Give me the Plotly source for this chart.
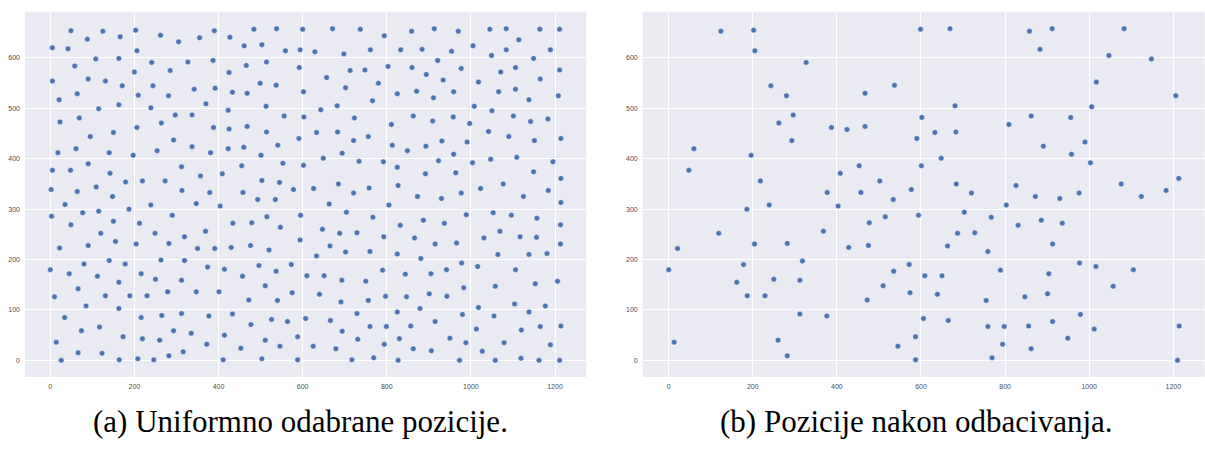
import plotly.graph_objects as go

# (a) uniformly chosen positions
a_x = [49,125,203,88,166,262,305,5,42,206,108,163,241,327,58,200,285,5,90,131,171,244,64,209,281,21,115,163,239,297,69,23,264,206,95,150,293,61,254,18,140,197,90,312,5,48,142,
       179,219,273,109,2,64,313,148,35,239,3,77,115,187,290,150,212,49,120,249,319,155,204,282,90,22,140,263,319,80,178,0,45,216,112,250,312,163,66,279,10,131,189,230,85,163,34,216,265,312,117,74,293,173,219,260,14,66,123,282,316,26,164,208,246,
       355,390,427,484,538,600,671,737,461,503,559,594,629,698,761,387,466,514,425,592,713,748,657,499,537,780,342,392,433,468,602,702,370,766,337,423,513,556,603,643,682,723,388,425,468,514,633,683,591,721,756,337,423,460,541,381,501,694,649,553,602,734,455,409,357,
       503,545,685,379,458,578,626,758,721,493,535,347,404,663,595,704,515,767,434,479,547,369,647,688,729,594,350,391,430,476,520,665,633,702,760,573,374,414,496,537,457,610,651,693,750,511,347,401,472,540,575,640,691,756,377,433,729,477,526,564,607,666,760,335,414,694,588,511,731,372,453,546,625,679,411,503,588,717,769,
       794,859,913,970,1045,1084,1164,1211,1114,1005,833,884,954,1049,1084,1189,921,1149,803,860,977,1106,1211,1071,894,934,1018,1165,825,871,911,959,1066,1106,1138,1208,1008,1050,863,909,958,1101,1183,811,997,1142,1042,1090,1214,813,849,893,931,991,1151,959,792,825,923,1004,1047,1109,1195,892,964,1149,1214,
       827,1023,1077,1184,873,930,977,1125,805,1214,989,1053,1096,1157,832,887,937,1213,793,866,915,966,1031,1069,1117,1156,1213,825,881,1064,1138,1181,790,844,905,942,978,1016,1106,1206,983,1058,1153,797,847,901,943,879,825,980,1018,1104,1177,1055,1138,915,799,857,1013,1120,1165,1214,950,830,794,988,1079,1189,863,906,1027,827,973,1058,1119,1162,1211]
a_y = [654,653,655,637,642,645,632,620,618,614,598,599,591,592,584,572,575,554,558,554,545,545,529,526,525,517,499,507,501,487,481,473,471,462,444,452,437,420,416,412,412,407,390,384,377,377,371,
       354,356,356,344,339,335,337,325,309,308,286,293,296,300,288,276,272,269,252,252,245,236,231,232,228,223,198,199,198,191,191,180,172,172,167,161,159,155,142,136,126,128,128,128,108,103,85,85,89,93,66,59,59,47,43,40,36,15,14,9,17,0,1,3,1,
       640,654,641,657,658,657,658,657,624,626,614,616,612,608,616,595,585,592,571,581,575,576,561,550,546,550,538,540,532,530,533,541,509,515,487,496,504,485,483,497,505,481,462,459,464,453,452,453,440,436,444,424,420,423,427,412,407,411,401,391,387,395,386,370,366,
       357,353,350,333,333,339,341,342,332,319,319,311,306,310,288,294,285,284,272,273,264,256,260,252,253,239,222,222,224,228,219,227,207,215,216,190,185,181,188,177,167,168,168,159,157,148,136,136,120,119,134,131,116,119,88,92,93,71,81,77,83,79,67,54,50,58,47,40,42,32,24,28,28,23,1,3,1,1,5,
       644,653,658,653,657,658,657,657,636,624,616,617,613,605,616,616,595,599,583,581,579,581,576,572,567,556,552,558,529,534,521,533,533,538,517,525,504,495,485,475,483,485,479,468,470,474,454,444,440,427,416,425,435,433,436,409,394,383,396,392,399,403,394,370,372,374,361,
       347,341,350,337,325,321,332,325,308,313,289,293,288,282,268,278,272,269,245,243,231,233,243,256,245,244,231,211,202,210,210,212,179,171,172,180,193,186,180,157,144,147,152,127,126,132,127,103,96,91,105,112,108,88,96,77,67,68,62,60,67,68,44,43,32,35,35,31,23,19,18,0,0,0,4,0,0]

# (b) positions after rejection
b_x = [124,202,205,327,243,280,467,537,296,262,387,424,467,293,60,48,196,408,453,
       599,669,858,912,1083,883,1047,1148,1017,1206,681,1006,602,862,956,809,590,633,683,891,990,648,958,601,1003,1213,
       218,502,377,457,534,186,239,403,515,477,119,368,204,282,428,475,21,0,178,318,162,250,312,535,187,229,510,472,312,376,13,260,282,545,
       577,684,720,826,872,930,976,1076,1124,1183,803,594,703,767,886,936,831,687,728,913,663,759,572,977,1016,1105,609,650,789,904,1057,574,639,755,847,901,979,606,665,759,798,856,913,1012,1214,587,949,794,862,587,769,1210]
b_y = [653,655,614,591,545,525,530,546,487,471,462,458,464,436,420,377,407,371,386,
       657,658,653,658,658,617,605,598,552,525,505,503,482,485,482,468,440,452,453,425,433,401,409,386,392,361,
       356,356,333,333,319,300,308,306,285,273,252,256,231,232,224,228,222,180,190,197,155,161,159,177,128,128,148,120,92,88,36,40,9,28,
       339,350,332,347,325,321,332,350,325,337,308,288,294,284,278,272,268,252,253,231,227,216,190,193,186,180,168,168,179,172,147,134,131,119,126,132,91,83,79,67,67,68,77,62,68,47,44,32,23,1,5,0]

x_ticks = [0, 200, 400, 600, 800, 1000, 1200]
y_ticks = [0, 100, 200, 300, 400, 500, 600]
captions = ["(a) Uniformno odabrane pozicije.", "(b) Pozicije nakon odbacivanja."]

W, H = 1205, 449
marker = dict(size=5.5, color="#4C72B0", line=dict(width=0.4, color="white"))

fig = go.Figure()
fig.add_trace(go.Scatter(x=a_x, y=a_y, mode="markers", marker=marker, xaxis="x", yaxis="y", showlegend=False))
fig.add_trace(go.Scatter(x=b_x, y=b_y, mode="markers", marker=marker, xaxis="x2", yaxis="y2", showlegend=False))

tickfont = dict(family="Liberation Sans Narrow, Liberation Sans, sans-serif", size=7, color="#4d4d4d")
ax_common = dict(showgrid=True, gridcolor="white", gridwidth=1, zeroline=False, showline=False,
                 ticks="", tickfont=tickfont, ticklabelstandoff=4)

ydom = [1 - 377 / H, 1 - 11.7 / H]
fig.update_layout(
    width=W, height=H, margin=dict(l=0, r=0, t=0, b=0),
    paper_bgcolor="white", plot_bgcolor="#EAEAF2",
    xaxis=dict(domain=[25 / W, 586.3 / W], range=[-60.2, 1274.4], tickvals=x_ticks, anchor="y", **ax_common),
    yaxis=dict(domain=ydom, range=[-33, 691.7], tickvals=y_ticks, anchor="x", **ax_common),
    xaxis2=dict(domain=[642.7 / W, 1204.7 / W], range=[-61.8, 1274.7], tickvals=x_ticks, anchor="y2", **ax_common),
    yaxis2=dict(domain=ydom, range=[-33, 691.7], tickvals=y_ticks, anchor="x2", **ax_common),
)

for cx, txt in zip([300.5 / W, 916.0 / W], captions):
    fig.add_annotation(x=cx, y=1 - 421 / H, xref="paper", yref="paper", text=txt, showarrow=False,
                       xanchor="center", yanchor="middle",
                       font=dict(family="Liberation Serif, Times New Roman, serif", size=31, color="black"))

fig.write_html("out.html")
